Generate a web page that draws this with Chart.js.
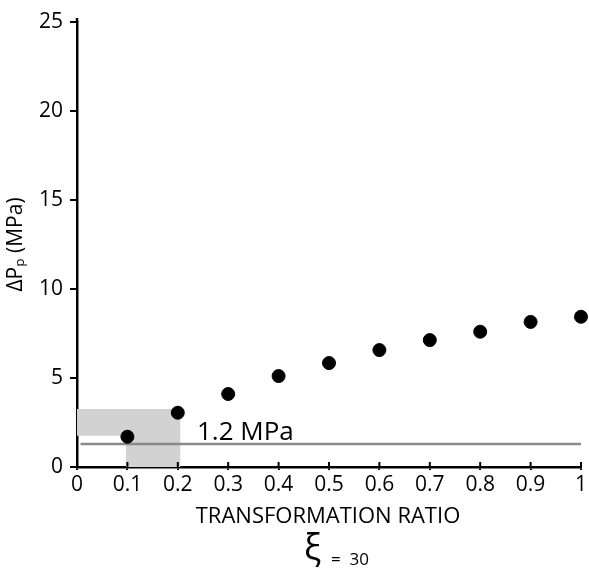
<!DOCTYPE html>
<html>
<head>
<meta charset="utf-8">
<script src="https://cdn.jsdelivr.net/npm/chart.js@4/dist/chart.umd.min.js"></script>
<style>
  html, body { margin: 0; padding: 0; background: #fff; }
  #wrap { width: 589px; height: 569px; }
</style>
</head>
<body>
<div id="wrap"><canvas id="myChart" width="589" height="569"></canvas></div>
<script>
// data
var ratios = [0.1, 0.2, 0.3, 0.4, 0.5, 0.6, 0.7, 0.8, 0.9, 1.0];
var deltaP = [1.7, 3.05, 4.1, 5.11, 5.84, 6.57, 7.13, 7.6, 8.15, 8.44];

// threshold line
var limitValue = 1.29;
var limitLabel = '1.2 MPa';

// shaded L-shaped region (x, y corners)
var shadeX = [0, 0.205, 0.205, 0.097, 0.097, 0];
var shadeY = [3.26, 3.26, 0, 0, 1.76, 1.76];

var xTicks = [0, 0.1, 0.2, 0.3, 0.4, 0.5, 0.6, 0.7, 0.8, 0.9, 1];
var yTicks = [0, 5, 10, 15, 20, 25];

var xTitle = 'TRANSFORMATION RATIO';

var fontName = '"Open Sans", "Noto Sans", sans-serif';

// draws the grey box behind the points and the labels under the axis
var extras = {
    id: 'extras',
    beforeDatasetsDraw: function (chart) {
        var ctx = chart.ctx;
        var xs = chart.scales.x, ys = chart.scales.y;
        ctx.save();
        ctx.fillStyle = '#d2d2d2';
        ctx.beginPath();
        for (var i = 0; i < shadeX.length; i++) {
            var px = xs.getPixelForValue(shadeX[i]);
            var py = ys.getPixelForValue(shadeY[i]);
            if (i == 0) ctx.moveTo(px, py); else ctx.lineTo(px, py);
        }
        ctx.closePath();
        ctx.fill();
        // threshold line
        var ly = ys.getPixelForValue(limitValue);
        ctx.strokeStyle = '#8a8a8a';
        ctx.lineWidth = 2.5;
        ctx.beginPath();
        ctx.moveTo(xs.getPixelForValue(0.007), ly);
        ctx.lineTo(xs.getPixelForValue(1), ly);
        ctx.stroke();
        ctx.fillStyle = '#000';
        ctx.font = '26px ' + fontName;
        ctx.textBaseline = 'alphabetic';
        ctx.fillText(limitLabel, xs.getPixelForValue(0.238), ly - 4);
        ctx.restore();
    },
    afterDraw: function (chart) {
        var ctx = chart.ctx;
        var xs = chart.scales.x, ys = chart.scales.y;
        ctx.save();
        // inner half of the x ticks
        ctx.strokeStyle = '#000';
        ctx.lineWidth = 2;
        var y0 = ys.getPixelForValue(0);
        xTicks.forEach(function (t) {
            var px = xs.getPixelForValue(t);
            ctx.beginPath();
            ctx.moveTo(px, y0);
            ctx.lineTo(px, y0 - 5);
            ctx.stroke();
        });
        // y axis sticks out a bit above the top tick
        ctx.lineWidth = 2.5;
        ctx.beginPath();
        ctx.moveTo(xs.left, ys.top);
        ctx.lineTo(xs.left, ys.top - 4);
        ctx.stroke();
        // x title and xi = 30
        ctx.fillStyle = '#000';
        ctx.textBaseline = 'alphabetic';
        ctx.textAlign = 'center';
        ctx.font = '22px ' + fontName;
        ctx.fillText(xTitle, 328, 523);
        ctx.textAlign = 'left';
        ctx.font = '36px ' + fontName;
        ctx.fillText('ξ', 304, 560);
        ctx.font = '17px ' + fontName;
        ctx.fillText('=  30', 331, 565);
        ctx.restore();
    }
};

var ctx = document.getElementById('myChart').getContext('2d');
new Chart(ctx, {
    type: 'scatter',
    data: {
        datasets: [{
            label: 'dP',
            data: ratios.map(function (r, i) { return { x: r, y: deltaP[i] }; }),
            backgroundColor: '#000',
            borderColor: '#000',
            pointRadius: 6.5,
            pointHoverRadius: 6.5,
            clip: false
        }]
    },
    options: {
        responsive: false,
        animation: false,
        layout: { padding: { top: 22, right: 7, left: 0, bottom: 0 } },
        plugins: { legend: { display: false }, tooltip: { enabled: false } },
        scales: {
            x: {
                type: 'linear',
                min: 0,
                max: 1,
                afterBuildTicks: function (scale) {
                    scale.ticks = xTicks.map(function (v) { return { value: v }; });
                },
                afterFit: function (scale) { scale.height = 102; },
                grid: { drawOnChartArea: false, color: '#000', lineWidth: 2, tickLength: 3 },
                border: { color: '#000', width: 2.5 },
                ticks: {
                    color: '#000',
                    font: { family: fontName, size: 21 },
                    padding: 2,
                    maxRotation: 0,
                    callback: function (v) { return String(Math.round(v * 10) / 10); }
                }
            },
            y: {
                type: 'linear',
                min: 0,
                max: 25,
                afterBuildTicks: function (scale) {
                    scale.ticks = yTicks.map(function (v) { return { value: v }; });
                },
                afterFit: function (scale) { scale.width = 77; },
                grid: { drawOnChartArea: false, color: '#000', lineWidth: 2, tickLength: 7 },
                border: { color: '#000', width: 2.5 },
                ticks: {
                    color: '#000',
                    font: { family: fontName, size: 21 },
                    padding: 7
                },
                title: {
                    display: true,
                    text: 'ΔPₚ (MPa)',
                    color: '#000',
                    font: { family: fontName, size: 21 },
                    padding: { top: 3, bottom: 0 }
                }
            }
        }
    },
    plugins: [extras]
});
</script>
</body>
</html>
